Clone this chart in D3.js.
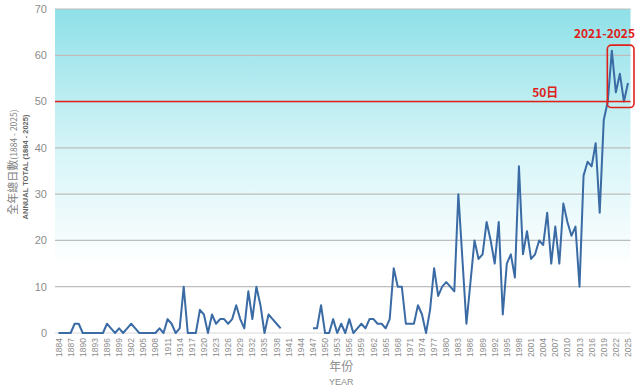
<!DOCTYPE html>
<html>
<head>
<meta charset="utf-8">
<script src="https://cdn.jsdelivr.net/npm/d3@7"></script>
<style>
  html, body { margin: 0; padding: 0; background: #fff; }
  svg { display: block; }
</style>
</head>
<body>
<div id="chart"></div>
<script>
const FIRST_YEAR = 1884
const LAST_YEAR = 2025

// annual totals 1884-1939
const PREWAR_DAYS = [
  0, 0, 0, 0, 2, 2, 0, 0, 0, 0, 0, 0, 2, 1, 0, 1, 0, 1, 2, 1,
  0, 0, 0, 0, 0, 1, 0, 3, 2, 0, 1, 10, 0, 0, 0, 5, 4, 0, 4, 2,
  3, 3, 2, 3, 6, 3, 1, 9, 3, 10, 6, 0, 4, 3, 2, 1,
]
// no record for these years
const GAP_YEARS = [1940, 1941, 1942, 1943, 1944, 1945, 1946]
// annual totals 1947-2025
const POSTWAR_DAYS = [
  1, 1, 6, 0, 0, 3, 0, 2, 0, 3, 0, 1, 2, 1, 3, 3, 2, 2, 1, 3,
  14, 10, 10, 2, 2, 2, 6, 4, 0, 5, 14, 8, 10, 11, 10, 9, 30, 16, 2, 11,
  20, 16, 17, 24, 20, 15, 24, 4, 15, 17, 12, 36, 17, 22, 16, 17, 20, 19, 26, 15,
  23, 15, 28, 24, 21, 23, 10, 34, 37, 36, 41, 26, 46, 50, 61, 52, 56, 50, 54,
]

const Y_TICKS = [0, 10, 20, 30, 40, 50, 60, 70]
const THRESHOLD = 50
const HIGHLIGHT = [2021, 2025]

const W = 640, H = 392
const plot = { left: 56.5, right: 630, top: 9, bottom: 333 }

const values = [...PREWAR_DAYS, ...GAP_YEARS.map(() => null), ...POSTWAR_DAYS]
const years = values.map((_, i) => FIRST_YEAR + i)
const data = years.map((y, i) => ({ year: y, v: values[i] }))
const xTicks = years.filter(y => (y - FIRST_YEAR) % 3 === 0)

const x = d3.scalePoint().domain(years).range([plot.left, plot.right]).padding(0.5)
const y = d3.scaleLinear().domain([0, 70]).range([plot.bottom, plot.top])

const svg = d3.select('#chart').append('svg')
  .attr('width', W).attr('height', H)

const grad = svg.append('defs').append('linearGradient')
  .attr('id', 'bg').attr('x1', 0).attr('y1', 0).attr('x2', 0).attr('y2', 1)
grad.append('stop').attr('offset', '0%').attr('stop-color', '#8FE0E8')
grad.append('stop').attr('offset', '45%').attr('stop-color', '#D8F5F8')
grad.append('stop').attr('offset', '80%').attr('stop-color', '#FFFFFF')

svg.append('rect')
  .attr('x', plot.left - 1.5).attr('y', plot.top)
  .attr('width', plot.right - plot.left + 2).attr('height', plot.bottom - plot.top)
  .attr('fill', 'url(#bg)')

// grid
svg.append('g')
  .selectAll('line')
  .data(Y_TICKS)
  .join('line')
  .attr('x1', plot.left - 1.5).attr('x2', plot.right + 0.5)
  .attr('y1', d => y(d)).attr('y2', d => y(d))
  .attr('stroke', d => d === 0 ? '#D9D9D9' : '#BDBDBD')
  .attr('stroke-width', 1.2)

// y tick labels
svg.append('g')
  .selectAll('text')
  .data(Y_TICKS)
  .join('text')
  .attr('x', 47).attr('y', d => y(d))
  .attr('dy', '0.35em')
  .attr('text-anchor', 'end')
  .attr('fill', '#8C8C8C')
  .attr('font-family', "'Liberation Sans', Arial, sans-serif")
  .attr('font-size', '11px')
  .text(d => d)

// x tick labels
svg.append('g')
  .selectAll('text')
  .data(xTicks)
  .join('text')
  .attr('transform', d => `translate(${x(d)},${plot.bottom + 5}) rotate(-90)`)
  .attr('dy', '0.35em')
  .attr('text-anchor', 'end')
  .attr('fill', '#8C8C8C')
  .attr('font-family', "'Liberation Sans', Arial, sans-serif")
  .attr('font-size', '8.5px')
  .text(d => d)

// axis titles
svg.append('text')
  .attr('x', x(1954)).attr('y', 371)
  .attr('text-anchor', 'middle')
  .attr('fill', '#8C8C8C')
  .attr('font-family', "'Noto Sans CJK TC', sans-serif")
  .attr('font-size', '12px')
  .text('年份')
svg.append('text')
  .attr('x', x(1954)).attr('y', 385)
  .attr('text-anchor', 'middle')
  .attr('fill', '#8C8C8C')
  .attr('font-family', "'Liberation Sans', Arial, sans-serif")
  .attr('font-size', '9px')
  .text('YEAR')

const yTitle = svg.append('text')
  .attr('transform', 'translate(17,162) rotate(-90)')
  .attr('text-anchor', 'middle')
  .attr('fill', '#7F7F7F')
  .attr('font-family', "'Noto Sans CJK TC', sans-serif")
yTitle.append('tspan').attr('font-size', '11px').text('全年總日數')
yTitle.append('tspan').attr('font-size', '8.5px').text('(1884 - 2025)')

svg.append('text')
  .attr('transform', 'translate(28,167) rotate(-90)')
  .attr('text-anchor', 'middle')
  .attr('fill', '#666666')
  .attr('font-family', "'Liberation Sans', Arial, sans-serif")
  .attr('font-weight', 'bold')
  .attr('font-size', '7.5px')
  .text('ANNUAL TOTAL (1884 - 2025)')

// series
const line = d3.line()
  .defined(d => d.v !== null)
  .x(d => x(d.year))
  .y(d => y(d.v))

svg.append('path')
  .datum(data)
  .attr('fill', 'none')
  .attr('stroke', '#3A6BA5')
  .attr('stroke-width', 2)
  .attr('stroke-linejoin', 'round')
  .attr('d', line)

// 50-day threshold
svg.append('line')
  .attr('x1', plot.left - 1.5).attr('x2', plot.right + 0.5)
  .attr('y1', y(THRESHOLD)).attr('y2', y(THRESHOLD))
  .attr('stroke', '#E0201B')
  .attr('stroke-width', 1.5)

svg.append('text')
  .attr('x', x(2008) - 1).attr('y', y(THRESHOLD) - 5)
  .attr('text-anchor', 'end')
  .attr('fill', '#E0201B')
  .attr('font-family', "'Noto Sans CJK TC', sans-serif")
  .attr('font-weight', 'bold')
  .attr('font-size', '12px')
  .text('50日')

// highlight box for recent years
const recent = data.filter(d => d.year >= HIGHLIGHT[0] && d.year <= HIGHLIGHT[1])
const bx0 = x(HIGHLIGHT[0]) - 4.5
const bx1 = x(HIGHLIGHT[1]) + 6
const by0 = y(d3.max(recent, d => d.v)) - 5.5
const by1 = y(d3.min(recent, d => d.v)) + 6
svg.append('rect')
  .attr('x', bx0).attr('y', by0)
  .attr('width', bx1 - bx0).attr('height', by1 - by0)
  .attr('rx', 4)
  .attr('fill', 'none')
  .attr('stroke', '#E0201B')
  .attr('stroke-width', 1.6)

svg.append('text')
  .attr('x', bx1 + 1).attr('y', by0 - 7)
  .attr('text-anchor', 'end')
  .attr('fill', '#E0201B')
  .attr('font-family', "'Noto Sans CJK TC', sans-serif")
  .attr('font-weight', 'bold')
  .attr('font-size', '12px')
  .text(`${HIGHLIGHT[0]}-${HIGHLIGHT[1]}`)
</script>
</body>
</html>
